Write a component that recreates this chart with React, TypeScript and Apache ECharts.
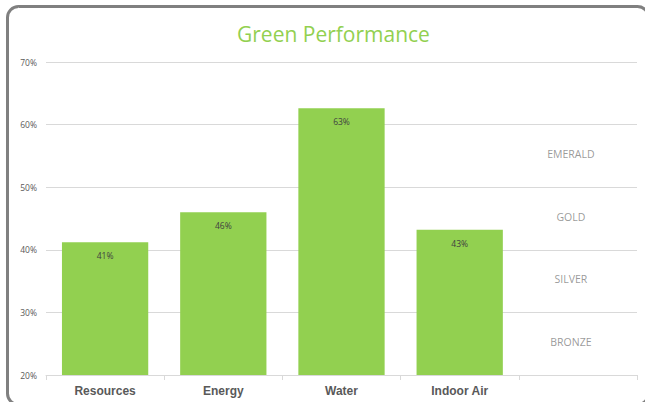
import React, { useEffect, useRef } from "react";
import * as echarts from "echarts";

const categories = ["Resources", "Energy", "Water", "Indoor Air", ""];
const performance = [41.2, 46.0, 62.6, 43.2, null];
const tierNames = ["EMERALD", "GOLD", "SILVER", "BRONZE"];
const tierLevels = [55, 45, 35, 25];
const yTicks = { min: 20, max: 70, interval: 10 };

export default function App() {
  const ref = useRef<HTMLDivElement>(null);
  useEffect(() => {
    document.body.style.margin = "0";
    const chart = echarts.init(ref.current!, null, { renderer: "svg" });
    chart.setOption({
      animation: false,
      backgroundColor: "#ffffff",
      title: {
        text: "Green Performance",
        left: 232,
        top: 18,
        textStyle: { color: "#92d050", fontSize: 21, fontWeight: "normal", fontFamily: "Open Sans" },
      },
      graphic: [
        {
          type: "rect",
          shape: { x: 7.5, y: 6.5, width: 641, height: 398, r: 11 },
          style: { fill: "none", stroke: "#808080", lineWidth: 3 },
          silent: true,
          z: 100,
        },
      ],
      grid: { left: 46, right: 8, top: 62, bottom: 27, containLabel: false },
      xAxis: {
        type: "category",
        data: categories,
        axisLine: { lineStyle: { color: "#d9d9d9" } },
        axisTick: { show: true, alignWithLabel: false, length: 5, lineStyle: { color: "#d9d9d9" } },
        axisLabel: { color: "#595959", fontSize: 12, fontWeight: "bold", fontFamily: "Liberation Sans", margin: 10 },
      },
      yAxis: {
        type: "value",
        min: yTicks.min,
        max: yTicks.max,
        interval: yTicks.interval,
        axisLine: { show: false },
        axisTick: { show: false },
        splitLine: { lineStyle: { color: "#d9d9d9" } },
        axisLabel: { formatter: "{value}%", color: "#595959", fontSize: 8.5, fontFamily: "Open Sans", margin: 9 },
      },
      series: [
        {
          type: "bar",
          data: performance,
          barCategoryGap: "27%",
          itemStyle: { color: "#92d050" },
          label: {
            show: true,
            position: "insideTop",
            distance: 9,
            color: "#404040",
            fontSize: 8.5,
            fontFamily: "Open Sans",
            formatter: (p: any) => Math.round(p.value) + "%",
          },
        },
        {
          type: "scatter",
          symbolSize: 0,
          data: tierNames.map((n, i) => ({ name: n, value: [4, tierLevels[i]] })),
          label: {
            show: true,
            position: "inside",
            offset: [-7, -2],
            formatter: (p: any) => p.name,
            color: "#7f7f7f",
            fontSize: 10.5,
            fontFamily: "Open Sans",
          },
        },
      ],
    });
    return () => chart.dispose();
  }, []);
  return <div ref={ref} style={{ width: 645, height: 402 }} />;
}
